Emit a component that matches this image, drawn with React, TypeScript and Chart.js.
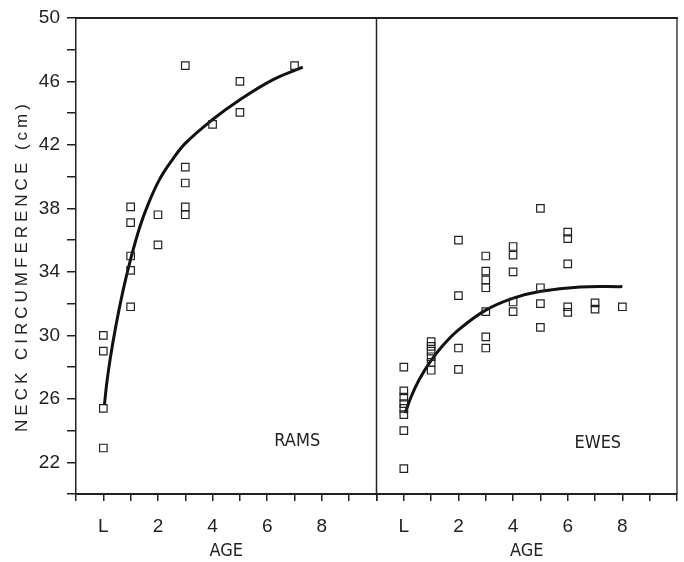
import { useEffect, useRef } from 'react';
import { Chart, registerables } from 'chart.js';

Chart.register(...registerables);

// ---- data ----
const ramsAge = [0, 0, 0, 0, 1, 1, 1, 1, 1, 2, 2, 3, 3, 3, 3, 3, 4, 5, 5, 7];
const ramsNeck = [30.0, 29.0, 25.4, 22.9, 38.1, 37.1, 35.0, 34.1, 31.8, 37.6, 35.7, 47.0, 40.6, 39.6, 38.1, 37.6, 43.3, 46.0, 44.05, 47.0];

const ewesAge = [
  0, 0, 0, 0, 0, 0, 0, 0,
  1, 1, 1, 1, 1, 1,
  2, 2, 2, 2,
  3, 3, 3, 3, 3, 3, 3,
  4, 4, 4, 4, 4,
  5, 5, 5, 5,
  6, 6, 6, 6, 6,
  7, 7,
  8,
];
const ewesNeck = [
  28.0, 26.5, 26.1, 25.7, 25.4, 25.0, 24.0, 21.6,
  29.6, 29.3, 29.0, 28.65, 28.3, 27.8,
  36.0, 32.5, 29.2, 27.85,
  35.0, 34.05, 33.5, 33.0, 31.5, 29.9, 29.2,
  35.6, 35.05, 34.0, 32.1, 31.5,
  38.0, 33.0, 32.0, 30.5,
  36.5, 36.1, 34.5, 31.8, 31.45,
  32.05, 31.65,
  31.8,
];

const ramsCurveAge = [0.04, 0.12, 0.25, 0.45, 0.72, 1.0, 1.33, 1.65, 2.05, 2.5, 3.0, 4.0, 5.0, 6.2, 7.3];
const ramsCurveNeck = [25.6, 26.9, 28.5, 30.5, 32.8, 34.8, 36.8, 38.3, 39.8, 41.0, 42.1, 43.6, 44.85, 46.1, 46.9];

const ewesCurveAge = [0.05, 0.26, 0.56, 0.95, 1.45, 1.97, 2.97, 3.98, 4.97, 6.45, 8.0];
const ewesCurveNeck = [25.1, 26.1, 27.2, 28.3, 29.4, 30.3, 31.56, 32.33, 32.76, 33.05, 33.07];

const yTickValues = [22, 26, 30, 34, 38, 42, 46, 50];
const xTickValues = [0, 2, 4, 6, 8];
const xTickText = ['L', '2', '4', '6', '8'];

const panelNames = ['RAMS', 'EWES'];
const yTitle = 'NECK CIRCUMFERENCE (cm)';
const xTitle = 'AGE';

const INK = '#222';
const REG = '"Liberation Sans", Arial, sans-serif';
const NARROW = '"Liberation Sans Narrow", "DejaVu Sans Condensed", "Liberation Sans", sans-serif';

const toPts = (xs: number[], ys: number[]) => xs.map((x, i) => ({ x, y: ys[i] }));

const xTickCb = (v: any) => {
  const i = xTickValues.indexOf(Number(v));
  return i >= 0 ? xTickText[i] : '';
};

const makeX = () => ({
  type: 'linear' as const,
  position: 'bottom' as const,
  stack: 'age',
  stackWeight: 1,
  min: -1,
  max: 10,
  ticks: {
    stepSize: 1,
    autoSkip: false,
    maxRotation: 0,
    callback: xTickCb,
    color: INK,
    font: { family: REG, size: 19 },
    padding: 14,
  },
  grid: {
    drawOnChartArea: false,
    drawTicks: true,
    tickLength: 7,
    color: INK,
    lineWidth: 1.5,
  },
  border: { display: true, color: INK, width: 2 },
  title: {
    display: true,
    text: xTitle,
    color: INK,
    font: { family: NARROW, size: 18 },
    padding: { top: 0, bottom: 0 },
  },
  afterFit: (s: any) => {
    s.height = 68;
    s.paddingLeft = 0;
    s.paddingRight = 0;
  },
});

const framePlugin = {
  id: 'frameAndLabels',
  afterDraw(chart: any) {
    const { ctx, chartArea: a, scales } = chart;
    ctx.save();
    ctx.strokeStyle = INK;
    ctx.lineWidth = 2;
    ctx.beginPath();
    ctx.moveTo(a.left, a.top);
    ctx.lineTo(a.right + 1, a.top);
    ctx.stroke();
    ctx.lineWidth = 1.3;
    ctx.beginPath();
    ctx.moveTo(a.right, a.top);
    ctx.lineTo(a.right, a.bottom);
    ctx.stroke();
    ctx.lineWidth = 1.5;
    const mid = scales.x1.right;
    ctx.beginPath();
    ctx.moveTo(mid, a.top);
    ctx.lineTo(mid, a.bottom);
    ctx.stroke();

    // panel names
    ctx.fillStyle = INK;
    ctx.font = `18px ${NARROW}`;
    ctx.textAlign = 'center';
    ctx.textBaseline = 'middle';
    ctx.fillText(panelNames[0], scales.x1.getPixelForValue(7.1), scales.y.getPixelForValue(23.3));
    ctx.fillText(panelNames[1], scales.x2.getPixelForValue(7.1), scales.y.getPixelForValue(23.2));

    // y title with letter spacing
    ctx.font = `17px ${REG}`;
    (ctx as any).letterSpacing = '4px';
    ctx.textBaseline = 'alphabetic';
    ctx.translate(27, (a.top + a.bottom) / 2 + 10);
    ctx.rotate(-Math.PI / 2);
    ctx.fillText(yTitle, 0, 0);
    ctx.restore();
  },
};

export default function App() {
  const ref = useRef<HTMLCanvasElement | null>(null);

  useEffect(() => {
    if (!ref.current) return;
    const pointStyle = {
      pointStyle: 'rect' as const,
      pointRadius: 5.3,
      pointHoverRadius: 5.3,
      pointBorderColor: INK,
      pointBackgroundColor: 'rgba(0,0,0,0)',
      pointBorderWidth: 1.2,
      showLine: false,
    };
    const curveStyle = {
      showLine: true,
      pointRadius: 0,
      pointHoverRadius: 0,
      borderColor: '#111',
      borderWidth: 3,
      tension: 0.4,
      fill: false,
    };
    const chart = new Chart(ref.current, {
      type: 'scatter',
      data: {
        datasets: [
          { label: 'Rams', data: toPts(ramsAge, ramsNeck), xAxisID: 'x1', yAxisID: 'y', ...pointStyle },
          { label: 'Rams fit', data: toPts(ramsCurveAge, ramsCurveNeck), xAxisID: 'x1', yAxisID: 'y', ...curveStyle },
          { label: 'Ewes', data: toPts(ewesAge, ewesNeck), xAxisID: 'x2', yAxisID: 'y', ...pointStyle },
          { label: 'Ewes fit', data: toPts(ewesCurveAge, ewesCurveNeck), xAxisID: 'x2', yAxisID: 'y', ...curveStyle },
        ] as any,
      },
      options: {
        animation: false,
        responsive: true,
        maintainAspectRatio: false,
        layout: { padding: { left: 0, top: 18, right: 7, bottom: 0 } },
        plugins: {
          legend: { display: false },
          tooltip: { enabled: false },
        },
        scales: {
          x1: makeX() as any,
          x2: makeX() as any,
          y: {
            type: 'linear',
            position: 'left',
            min: 20,
            max: 50,
            ticks: {
              stepSize: 2,
              autoSkip: false,
              callback: (v: any) => (yTickValues.includes(Number(v)) ? String(v) : ''),
              color: INK,
              font: { family: REG, size: 19 },
              padding: 7,
            },
            grid: {
              drawOnChartArea: false,
              drawTicks: true,
              tickLength: 9,
              color: INK,
              lineWidth: 1.5,
            },
            border: { display: true, color: INK, width: 1.5 },
            afterFit: (s: any) => {
              s.width = 76;
              s.paddingTop = 0;
              s.paddingBottom = 0;
            },
          } as any,
        },
      },
      plugins: [framePlugin],
    });
    return () => chart.destroy();
  }, []);

  return (
    <div style={{ position: 'absolute', left: 0, top: 0, width: 684, height: 562, background: '#fff' }}>
      <canvas ref={ref} />
    </div>
  );
}
